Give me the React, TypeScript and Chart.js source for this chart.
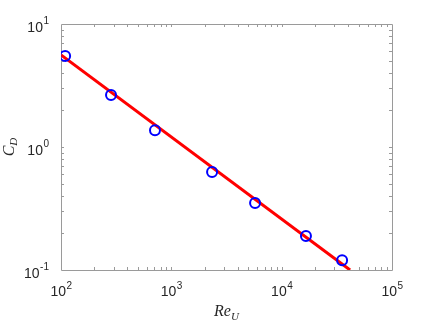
import React, { useEffect, useRef } from "react";
import { Chart, registerables } from "chart.js";

Chart.register(...registerables);

// Measured points (Reynolds number vs drag coefficient)
const reynolds = [109, 284, 711, 2340, 5740, 16600, 35300];
const dragCoeff = [5.5, 2.65, 1.37, 0.626, 0.35, 0.189, 0.12];

// Power-law fit line end points
const fitRe = [100, 41700];
const fitCd = [5.6, 0.1];

// Axis decade exponents for tick labels
const xExponents = [2, 3, 4, 5];
const yExponents = [-1, 0, 1];

const AXIS_COLOR = "#9a9a9a";
const TEXT_COLOR = "#262626";

const matlabAxes = {
  id: "matlabAxes",
  beforeDatasetsDraw(chart: any) {
    const { ctx, chartArea: a, scales } = chart;
    const xs = scales.x;
    const ys = scales.y;
    ctx.save();
    ctx.strokeStyle = AXIS_COLOR;
    ctx.lineWidth = 1;
    ctx.beginPath();
    ctx.rect(a.left + 0.5, a.top + 0.5, a.right - a.left, a.bottom - a.top);
    ctx.stroke();
    const tl = 3;
    ctx.beginPath();
    for (let e = 2; e <= 4; e++) {
      for (let m = 1; m <= 9; m++) {
        const v = m * Math.pow(10, e);
        if (v <= 100) continue;
        const px = Math.round(xs.getPixelForValue(v)) + 0.5;
        ctx.moveTo(px, a.bottom);
        ctx.lineTo(px, a.bottom - tl);
        ctx.moveTo(px, a.top);
        ctx.lineTo(px, a.top + tl);
      }
    }
    for (let e = -1; e <= 0; e++) {
      for (let m = 1; m <= 9; m++) {
        const v = m * Math.pow(10, e);
        if (v <= 0.1) continue;
        const py = Math.round(ys.getPixelForValue(v)) + 0.5;
        ctx.moveTo(a.left, py);
        ctx.lineTo(a.left + tl, py);
        ctx.moveTo(a.right, py);
        ctx.lineTo(a.right - tl, py);
      }
    }
    ctx.stroke();
    ctx.restore();
  },
  afterDraw(chart: any) {
    const { ctx, chartArea: a, scales } = chart;
    const xs = scales.x;
    const ys = scales.y;
    ctx.save();
    ctx.fillStyle = TEXT_COLOR;
    const baseFont = "14px 'Liberation Sans', Arial, sans-serif";
    const supFont = "10px 'Liberation Sans', Arial, sans-serif";
    ctx.textBaseline = "middle";
    // x tick labels
    for (const e of xExponents) {
      const px = xs.getPixelForValue(Math.pow(10, e));
      ctx.font = baseFont;
      const w1 = ctx.measureText("10").width;
      ctx.font = supFont;
      const sup = String(e);
      const w2 = ctx.measureText(sup).width;
      const start = px - (w1 + w2) / 2;
      ctx.textAlign = "left";
      ctx.font = baseFont;
      ctx.fillText("10", start, a.bottom + 22);
      ctx.font = supFont;
      ctx.fillText(sup, start + w1 + 0.5, a.bottom + 16);
    }
    // y tick labels
    for (const e of yExponents) {
      const py = ys.getPixelForValue(Math.pow(10, e));
      const sup = e < 0 ? "-" + Math.abs(e) : String(e);
      ctx.font = supFont;
      const w2 = ctx.measureText(sup).width;
      const right = a.left - 12;
      ctx.textAlign = "right";
      ctx.font = baseFont;
      ctx.fillText("10", right - w2 - 0.5, py + 4);
      ctx.textAlign = "left";
      ctx.font = supFont;
      ctx.fillText(sup, right - w2, py - 3);
    }
    // x axis title: Re_U
    const titleFont = "italic 16px 'Liberation Serif', 'Times New Roman', serif";
    const subFont = "italic 11px 'Liberation Serif', 'Times New Roman', serif";
    ctx.textBaseline = "alphabetic";
    ctx.textAlign = "left";
    ctx.font = titleFont;
    const wRe = ctx.measureText("Re").width;
    ctx.font = subFont;
    const wU = ctx.measureText("U").width;
    const cx = (a.left + a.right) / 2;
    const sx = cx - (wRe + wU) / 2;
    ctx.font = titleFont;
    ctx.fillText("Re", sx, a.bottom + 46);
    ctx.font = subFont;
    ctx.fillText("U", sx + wRe, a.bottom + 50);
    // y axis title: C_D
    ctx.save();
    const cy = (a.top + a.bottom) / 2;
    ctx.translate(14, cy);
    ctx.rotate(-Math.PI / 2);
    ctx.font = titleFont;
    const wC = ctx.measureText("C").width;
    ctx.font = subFont;
    const wD = ctx.measureText("D").width;
    const sy = -(wC + wD) / 2;
    ctx.font = titleFont;
    ctx.fillText("C", sy, 0);
    ctx.font = subFont;
    ctx.fillText("D", sy + wC, 3);
    ctx.restore();
    ctx.restore();
  },
};

export default function App() {
  const ref = useRef<HTMLCanvasElement>(null);
  useEffect(() => {
    if (!ref.current) return;
    const chart = new Chart(ref.current, {
      type: "scatter",
      data: {
        datasets: [
          {
            type: "line",
            data: fitRe.map((x, i) => ({ x, y: fitCd[i] })),
            borderColor: "#ff0000",
            borderWidth: 3,
            pointRadius: 0,
            fill: false,
            showLine: true,
            order: 2,
          } as any,
          {
            type: "scatter",
            data: reynolds.map((x, i) => ({ x, y: dragCoeff[i] })),
            borderColor: "#0000ff",
            backgroundColor: "rgba(0,0,0,0)",
            borderWidth: 2,
            pointRadius: 5,
            pointStyle: "circle",
            order: 1,
          },
        ],
      },
      options: {
        animation: false,
        responsive: false,
        devicePixelRatio: 1,
        layout: { padding: { left: 61, top: 24, right: 40, bottom: 54 } },
        plugins: { legend: { display: false }, tooltip: { enabled: false } },
        scales: {
          x: { type: "logarithmic", min: 100, max: 100000, display: false },
          y: { type: "logarithmic", min: 0.1, max: 10, display: false },
        },
      },
      plugins: [matlabAxes],
    });
    return () => chart.destroy();
  }, []);
  return (
    <div style={{ position: "fixed", left: 0, top: 0, width: 432, height: 324, background: "#fff" }}>
      <canvas ref={ref} width={432} height={324} />
    </div>
  );
}
